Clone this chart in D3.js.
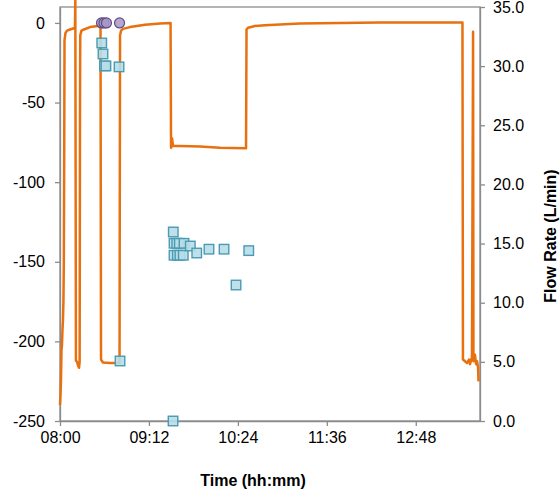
<!DOCTYPE html>
<html>
<head>
<meta charset="utf-8">
<script src="https://cdn.jsdelivr.net/npm/d3@7"></script>
<style>
  html, body { margin: 0; padding: 0; background: #fff; }
  svg { display: block; font-family: Arial, "Liberation Sans", sans-serif; }
</style>
</head>
<body>
<svg id="chart" width="560" height="489"></svg>
<script>
// ---- data ----
const flowTimes = ["08:00:00","08:00:24","08:00:48","08:01:12","08:01:36","08:02:00","08:02:24","08:02:48","08:03:06","08:03:24","08:03:39","08:04:27","08:05:42","08:08:06","08:11:18","08:12:06","08:12:24","08:12:54","08:13:48","08:14:36","08:15:24","08:15:54","08:16:12","08:16:24","08:17:24","08:19:24","08:24:18","08:30:48","08:32:48","08:33:12","08:34:48","08:40:30","08:48:12","08:48:36","08:49:24","08:51:00","08:56:42","09:08:48","09:21:00","09:29:30","09:29:54","09:30:42","09:31:30","09:37:06","09:53:18","10:09:30","10:29:48","10:30:36","10:31:00","10:32:12","10:37:54","10:46:00","11:14:18","12:19:00","13:25:48","13:26:12","13:27:54","13:29:30","13:31:06","13:31:54","13:33:30","13:34:24","13:34:42","13:35:54","13:36:48","13:37:36","13:38:24","13:38:48"];
const flowValues = [1.35,2.2,3.5,6.0,6.4,7.7,8.5,10.2,13.4,22.0,32.2,32.8,33.0,33.1,33.2,33.2,35.6,5.1,5.0,4.7,4.5,5.0,27.2,32.6,33.0,33.1,33.3,33.4,33.4,5.2,4.95,4.9,4.9,32.6,33.0,33.15,33.3,33.5,33.6,33.65,23.1,23.9,23.25,23.25,23.2,23.1,23.05,23.05,33.1,33.25,33.4,33.45,33.6,33.7,33.7,5.2,5.05,4.9,5.2,4.8,5.4,32.9,5.05,5.6,4.8,5.05,4.55,3.35];

const squareTimes = ["08:33:48","08:34:48","08:36:00","08:37:12","08:47:48","08:48:36","09:31:42","09:32:18","09:34:30","09:36:36","09:40:24","09:32:18","09:35:00","09:37:06","09:39:48","09:45:30","09:50:42","10:00:36","10:12:48","10:22:30","10:32:48","09:31:30"];
const squareValues = [-12.6,-19.5,-27,-27,-27.6,-212.3,-131.3,-138.4,-138.4,-138.4,-138.4,-145.9,-145.9,-145.9,-145.9,-140.1,-144.5,-142.1,-142.1,-164.6,-143,-250];

const circleTimes = ["08:33:36","08:35:36","08:37:36","08:48:12"];
const circleValues = [0,0,0,0];

const xTickLabels = ["08:00","09:12","10:24","11:36","12:48"];
const leftTicks = [-250,-200,-150,-100,-50,0];
const rightTicks = [0,5,10,15,20,25,30,35];

// ---- layout ----
const L = 60, R = 480, T = 7, B = 421;
const svg = d3.select("#chart");
const parseT = d3.timeParse("%H:%M:%S");
const parseHM = d3.timeParse("%H:%M");

const x = d3.scaleTime().domain([parseHM("08:00"), parseHM("13:40")]).range([L, R]);
const yL = d3.scaleLinear().domain([-250, 10]).range([B, T]);
const yR = d3.scaleLinear().domain([0, 35]).range([B, T]);

const axisColor = "#8c8c8c";

// plot border
svg.append("rect").attr("x", L).attr("y", T).attr("width", R - L).attr("height", B - T)
  .attr("fill", "none").attr("stroke", axisColor).attr("stroke-width", 1.3);

// axes
const gx = svg.append("g").attr("transform", `translate(0,${B})`)
  .call(d3.axisBottom(x).tickValues(xTickLabels.map(parseHM)).tickFormat(d3.timeFormat("%H:%M")).tickSize(5).tickPadding(6).tickSizeOuter(0));
const gl = svg.append("g").attr("transform", `translate(${L},0)`)
  .call(d3.axisLeft(yL).tickValues(leftTicks).tickFormat(d => String(d)).tickSize(5).tickPadding(10).tickSizeOuter(0));
const gr = svg.append("g").attr("transform", `translate(${R},0)`)
  .call(d3.axisRight(yR).tickValues(rightTicks).tickFormat(d => d.toFixed(1)).tickSize(5).tickPadding(8).tickSizeOuter(0));

[gx, gl, gr].forEach(g => {
  g.select(".domain").attr("stroke", axisColor).attr("stroke-width", 1.3);
  g.selectAll(".tick line").attr("stroke", axisColor).attr("stroke-width", 1.3);
  g.selectAll(".tick text").attr("fill", "#000").style("font-size", "16px")
    .style("font-family", "Arial, 'Liberation Sans', sans-serif");
});

// orange flow line
const flowData = flowTimes.map((t, i) => ({ t: parseT(t), v: flowValues[i] }));
svg.append("path").datum(flowData)
  .attr("d", d3.line().x(d => x(d.t)).y(d => yR(d.v)))
  .attr("fill", "none").attr("stroke", "#e8700e").attr("stroke-width", 2.5)
  .attr("stroke-linejoin", "round");

// squares
const sq = 9.5;
svg.append("g").selectAll("rect").data(squareTimes.map((t, i) => ({ t: parseT(t), v: squareValues[i] })))
  .join("rect")
  .attr("x", d => x(d.t) - sq / 2).attr("y", d => yL(d.v) - sq / 2)
  .attr("width", sq).attr("height", sq)
  .attr("fill", "#b7dde8").attr("fill-opacity", 0.9)
  .attr("stroke", "#4a9bb2").attr("stroke-width", 1.4);

// circles
svg.append("g").selectAll("circle").data(circleTimes.map((t, i) => ({ t: parseT(t), v: circleValues[i] })))
  .join("circle")
  .attr("cx", d => x(d.t)).attr("cy", d => yL(d.v)).attr("r", 5)
  .attr("fill", "#a898c4").attr("fill-opacity", 0.85)
  .attr("stroke", "#5f4b86").attr("stroke-width", 1.2);

// axis titles
svg.append("text").attr("x", 253).attr("y", 486).attr("text-anchor", "middle")
  .style("font-size", "16px").style("font-weight", "bold").text("Time (hh:mm)");
svg.append("text").attr("transform", "translate(556,236) rotate(-90)").attr("text-anchor", "middle")
  .style("font-size", "16px").style("font-weight", "bold").text("Flow Rate (L/min)");
</script>
</body>
</html>
